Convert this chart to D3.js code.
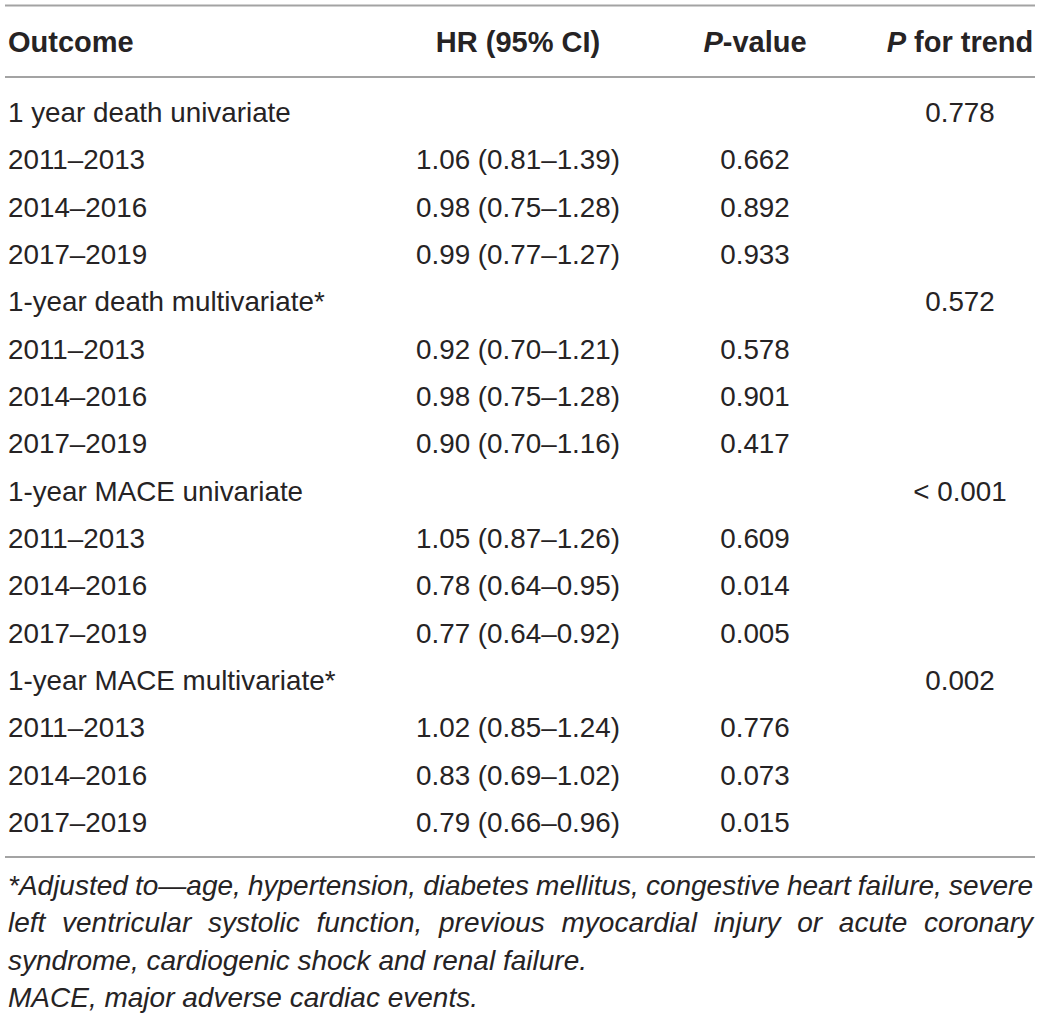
<!DOCTYPE html>
<html lang="en">
<head>
    <meta charset="UTF-8">
    <title>HR table</title>
    <script src="https://cdnjs.cloudflare.com/ajax/libs/d3/7.8.5/d3.min.js"></script>
    <style>
        body {
            margin: 0;
            padding: 0;
            background: #fff;
        }
        svg text {
            font-family: "Liberation Sans", Arial, Helvetica, sans-serif;
            fill: #262324;
        }
    </style>
</head>
<body>
    <svg id="chart"></svg>

    <script>
        // Table content
        const headers = ["Outcome", "HR (95% CI)", "P-value", "P for trend"];

        const outcomes = [
            "1 year death univariate", "2011–2013", "2014–2016", "2017–2019",
            "1-year death multivariate*", "2011–2013", "2014–2016", "2017–2019",
            "1-year MACE univariate", "2011–2013", "2014–2016", "2017–2019",
            "1-year MACE multivariate*", "2011–2013", "2014–2016", "2017–2019"
        ];

        const hrValues = [
            "", "1.06 (0.81–1.39)", "0.98 (0.75–1.28)", "0.99 (0.77–1.27)",
            "", "0.92 (0.70–1.21)", "0.98 (0.75–1.28)", "0.90 (0.70–1.16)",
            "", "1.05 (0.87–1.26)", "0.78 (0.64–0.95)", "0.77 (0.64–0.92)",
            "", "1.02 (0.85–1.24)", "0.83 (0.69–1.02)", "0.79 (0.66–0.96)"
        ];

        const pValues = [
            "", "0.662", "0.892", "0.933",
            "", "0.578", "0.901", "0.417",
            "", "0.609", "0.014", "0.005",
            "", "0.776", "0.073", "0.015"
        ];

        const trendValues = [
            "0.778", "", "", "",
            "0.572", "", "", "",
            "< 0.001", "", "", "",
            "0.002", "", "", ""
        ];

        const footnotes = [
            "*Adjusted to—age, hypertension, diabetes mellitus, congestive heart failure, severe",
            "left ventricular systolic function, previous myocardial injury or acute coronary",
            "syndrome, cardiogenic shock and renal failure.",
            "MACE, major adverse cardiac events."
        ];

        const width = 1041;
        const height = 1018;
        const fontSize = 27.8;

        const svg = d3.select("#chart")
            .attr("width", width)
            .attr("height", height);

        // row centres
        const y = d3.scaleLinear()
            .domain([0, outcomes.length - 1])
            .range([112, 822]);

        // column anchors: outcome is left aligned, rest centred
        const colX = [8, 518, 755, 960];
        const colAnchor = ["start", "middle", "middle", "middle"];

        // rules
        const rules = [5.5, 77, 857];
        svg.selectAll("line.rule")
            .data(rules)
            .join("line")
            .attr("class", "rule")
            .attr("x1", 5)
            .attr("x2", 1035)
            .attr("y1", d => d)
            .attr("y2", d => d)
            .attr("stroke", "#a3a3a3")
            .attr("stroke-width", 2);

        // header
        const head = svg.selectAll("text.head")
            .data(headers)
            .join("text")
            .attr("class", "head")
            .attr("x", (d, i) => colX[i])
            .attr("y", 52)
            .attr("text-anchor", (d, i) => colAnchor[i])
            .attr("font-size", 29)
            .attr("font-weight", "bold");

        head.each(function(d) {
            const t = d3.select(this);
            if (d.startsWith("P")) {
                t.append("tspan").attr("font-style", "italic").text("P");
                t.append("tspan").text(d.slice(1));
            } else {
                t.text(d);
            }
        });

        // body
        const columns = [outcomes, hrValues, pValues, trendValues];
        columns.forEach((col, ci) => {
            svg.selectAll("text.c" + ci)
                .data(col)
                .join("text")
                .attr("class", "c" + ci)
                .attr("x", colX[ci])
                .attr("y", (d, i) => y(i) + 10)
                .attr("text-anchor", colAnchor[ci])
                .attr("font-size", fontSize)
                .text(d => d);
        });

        // footnote, first two lines justified
        const noteLeft = 8, noteRight = 1033;
        const noteY = d3.scaleLinear().domain([0, 3]).range([895, 1007]);

        footnotes.forEach((line, li) => {
            const g = svg.append("text")
                .attr("font-size", 28)
                .attr("font-style", "italic")
                .attr("y", noteY(li));

            if (li < 2) {
                const words = line.split(" ");
                const spans = words.map(w => g.append("tspan").text(w));
                const widths = spans.map(s => s.node().getComputedTextLength());
                const gap = (noteRight - noteLeft - d3.sum(widths)) / (words.length - 1);
                let x = noteLeft;
                spans.forEach((s, i) => {
                    s.attr("x", x);
                    x += widths[i] + gap;
                });
            } else {
                g.attr("x", noteLeft).text(line);
            }
        });
    </script>
</body>
</html>
